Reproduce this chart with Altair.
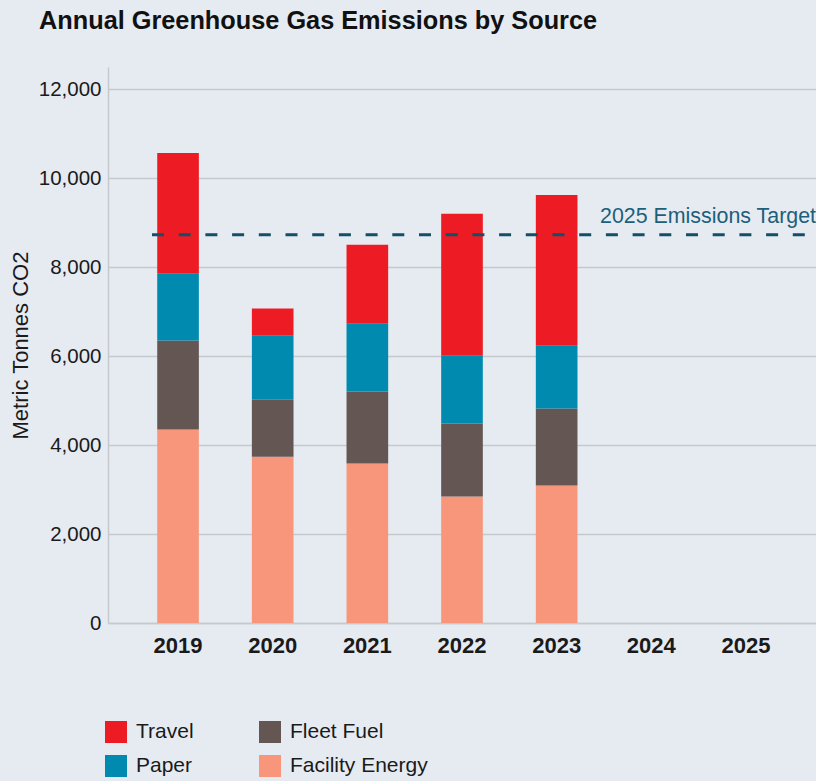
import altair as alt
import pandas as pd

# ---- data ----
years = ["2019", "2020", "2021", "2022", "2023", "2024", "2025"]
data_years = ["2019", "2020", "2021", "2022", "2023"]
facility_energy = [4350, 3740, 3585, 2845, 3090]
fleet_fuel = [2000, 1280, 1617, 1638, 1735]
paper = [1500, 1440, 1527, 1527, 1408]
travel = [2715, 610, 1773, 3188, 3390]
target_value = 8730
target_label = "2025 Emissions Target"

# legend order (filled column by column): Travel, Paper | Fleet Fuel, Facility Energy
sources = ["Travel", "Paper", "Fleet Fuel", "Facility Energy"]
source_colors = ["#ED1C24", "#008AB0", "#635653", "#F7967A"]
stack_rank = {"Facility Energy": 0, "Fleet Fuel": 1, "Paper": 2, "Travel": 3}

rows = []
for i, y in enumerate(data_years):
    for name, series in [("Facility Energy", facility_energy), ("Fleet Fuel", fleet_fuel),
                         ("Paper", paper), ("Travel", travel)]:
        rows.append({"Year": y, "Source": name, "Value": series[i], "rank": stack_rank[name]})
df = pd.DataFrame(rows)

FONT = "Liberation Sans"
W, H = 708, 556

bars = alt.Chart(df).mark_bar().encode(
    x=alt.X("Year:N", scale=alt.Scale(domain=years, paddingInner=0.56, paddingOuter=0.52),
            axis=alt.Axis(title=None, labelAngle=0, labelFontWeight="bold", labelFontSize=22,
                          labelPadding=12, ticks=False, grid=False)),
    y=alt.Y("Value:Q", stack="zero", scale=alt.Scale(domain=[0, 12500], nice=False),
            axis=alt.Axis(title="Metric Tonnes CO2", values=[0, 2000, 4000, 6000, 8000, 10000, 12000],
                          format=",d", ticks=False, labelPadding=7, labelFontSize=20.5,
                          titleFontSize=22, titleFontWeight="normal", titlePadding=6)),
    color=alt.Color("Source:N", scale=alt.Scale(domain=sources, range=source_colors),
                    legend=alt.Legend(title=None, orient="none", legendX=-3, legendY=654,
                                      columns=2, symbolType="square", symbolSize=484,
                                      symbolStrokeWidth=0, labelFontSize=21, labelOffset=9,
                                      rowPadding=12, columnPadding=65, padding=0)),
    order=alt.Order("rank:Q", sort="ascending"),
)

tdf = pd.DataFrame({"target": [target_value], "label": [target_label]})

rule = alt.Chart(tdf).mark_rule(color="#134F66", strokeWidth=3, strokeDash=[12, 14.7]).encode(
    y="target:Q", x=alt.value(44), x2=alt.value(W)
)
label = alt.Chart(tdf).mark_text(align="right", baseline="alphabetic", dy=-12, fontSize=21.4,
                                 color="#1D5F7A", font=FONT).encode(
    y="target:Q", x=alt.value(W), text="label:N"
)

chart = alt.layer(bars, rule, label).properties(
    width=W, height=H,
    autosize=alt.AutoSizeParams(type="none"),
    padding={"left": 108, "top": 67, "right": 0, "bottom": 158},
    background="#E6EBF2",
    title=alt.TitleParams("Annual Greenhouse Gas Emissions by Source", anchor="start",
                          frame="group", fontSize=25.3, fontWeight="bold", color="#111111",
                          font=FONT, dx=-69, offset=33),
).configure_view(stroke=None).configure_axis(
    labelFont=FONT, titleFont=FONT, labelColor="#1a1a1a", titleColor="#1a1a1a",
    gridColor="#C5C9CE", gridWidth=1.5, domainColor="#C5C9CE", domainWidth=1.5,
).configure_legend(labelFont=FONT, labelColor="#1a1a1a")

chart.save("out.html", embed_options={"renderer": "svg", "actions": False})
